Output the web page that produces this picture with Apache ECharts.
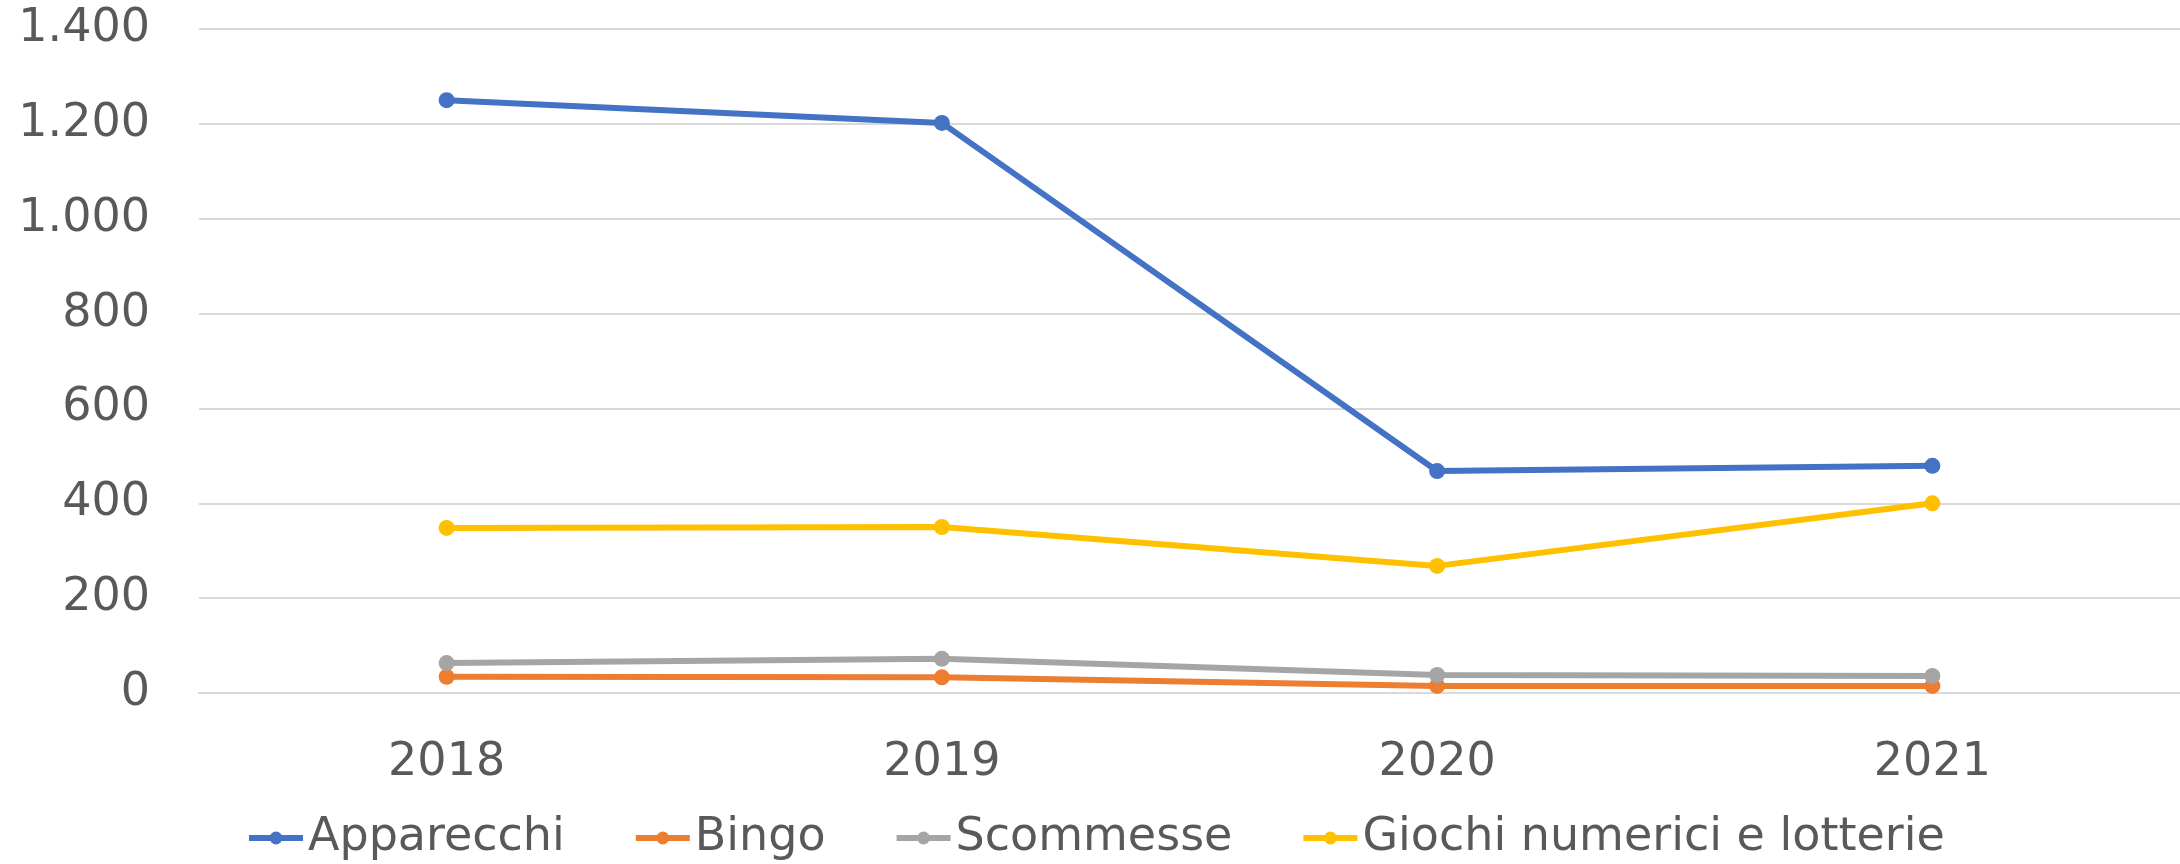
<!DOCTYPE html>
<html>
<head>
<meta charset="utf-8">
<script src="https://cdn.jsdelivr.net/npm/echarts@6/dist/echarts.min.js"></script>
<style>
  html, body { margin: 0; padding: 0; background: #fff; }
  #lineChart { width: 2180px; height: 864px; }
</style>
</head>
<body>
<div id="lineChart"></div>
<script>
const years = ["2018", "2019", "2020", "2021"];
const apparecchi = [1250, 1202, 468, 479];
const bingo = [34, 33, 15, 15];
const scommesse = [63, 72, 38, 36];
const giochi = [348, 350, 268, 400];

const textColor = "#595959";
const font = "DejaVu Sans";

function makeSeries(name, data, color) {
  return {
    name: name,
    type: "line",
    data: data,
    symbol: "circle",
    symbolSize: 16,
    itemStyle: { color: color },
    lineStyle: { color: color, width: 6 },
  };
}

const myChart = echarts.init(document.getElementById("lineChart"));
myChart.setOption({
  animation: false,
  textStyle: { fontFamily: font },
  grid: { left: 199, right: 0, top: 29, bottom: 171 },
  legend: {
    left: 241,
    top: 810,
    itemWidth: 54,
    itemHeight: 16,
    itemGap: 68,
    lineStyle: { width: 6 },
    textStyle: { color: textColor, fontSize: 46, fontFamily: font },
    data: ["Apparecchi", "Bingo", "Scommesse", "Giochi numerici e lotterie"],
  },
  xAxis: {
    type: "category",
    data: years,
    axisLine: { lineStyle: { color: "#d9d9d9", width: 2 } },
    axisTick: { show: false },
    axisLabel: { color: textColor, fontSize: 46, margin: 47 },
  },
  yAxis: {
    type: "value",
    min: 0,
    max: 1400,
    interval: 200,
    axisLine: { show: false },
    axisTick: { show: false },
    splitLine: { lineStyle: { color: "#d9d9d9", width: 2 } },
    axisLabel: {
      color: textColor,
      fontSize: 46,
      margin: 49,
      padding: [6, 0, 0, 0],
      formatter: (v) => String(v).replace(/\B(?=(\d{3})+(?!\d))/g, "."),
    },
  },
  series: [
    makeSeries("Apparecchi", apparecchi, "#4472C4"),
    makeSeries("Bingo", bingo, "#ED7D31"),
    makeSeries("Scommesse", scommesse, "#A5A5A5"),
    makeSeries("Giochi numerici e lotterie", giochi, "#FFC000"),
  ],
});
</script>
</body>
</html>
